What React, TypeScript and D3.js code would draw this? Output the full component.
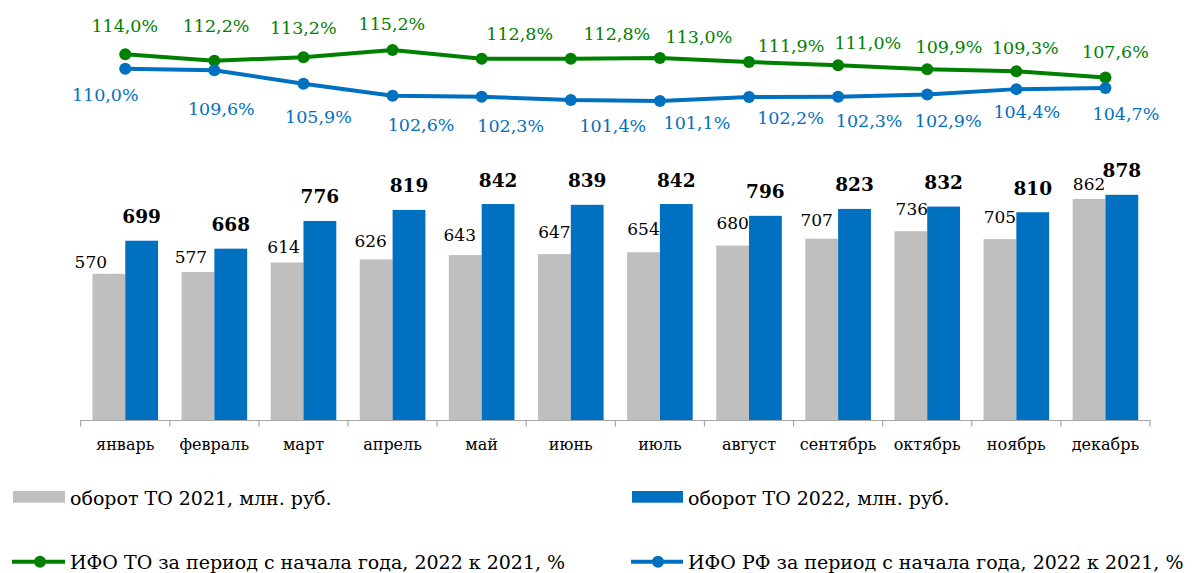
import React from "react";
import * as d3 from "d3";

const months = ["январь", "февраль", "март", "апрель", "май", "июнь", "июль", "август", "сентябрь", "октябрь", "ноябрь", "декабрь"];
const turnover2021 = [570, 577, 614, 626, 643, 647, 654, 680, 707, 736, 705, 862];
const turnover2022 = [699, 668, 776, 819, 842, 839, 842, 796, 823, 832, 810, 878];
const ifoTO = [114.0, 112.2, 113.2, 115.2, 112.8, 112.8, 113.0, 111.9, 111.0, 109.9, 109.3, 107.6];
const ifoRF = [110.0, 109.6, 105.9, 102.6, 102.3, 101.4, 101.1, 102.2, 102.3, 102.9, 104.4, 104.7];

const legendLabels = [
  "оборот ТО 2021, млн. руб.",
  "оборот ТО 2022, млн. руб.",
  "ИФО ТО за период с начала года, 2022 к 2021, %",
  "ИФО РФ за период с начала года, 2022 к 2021, %",
];

// label nudges (layout only)
const grayLblDx = [-18, -7, -3.5, -5.5, -5.5, 0, 0, 0, -5, 1, 0, 0];
const grayLblDy = [6, 9, 9.4, 12, 13.6, 15.7, 17, 16.7, 12.7, 16, 16, 9];
const greenLblDx = [-0.5, 1.7, -0.2, -0.7, 38, 46, 39, 42, 29.7, 21.7, 9, 10];
const greenLblDy = [22.6, 29.3, 23, 20, 18.3, 18.3, 15, 10.3, 16, 16, 17.7, 19.4];
const blueLblDx = [-20, 7, 15, 28.5, 29, 42, 37, 41.5, 31, 21, 10.5, 20.5];
const blueLblDy = [32.4, 44.7, 39, 35, 35, 31.7, 27.7, 27, 30.7, 32.7, 29.3, 32];

const GRAY = "#bfbfbf";
const BLUE = "#0070c0";
const GREEN = "#008000";
const FONT = "'DejaVu Serif', serif";

const fmtPct = (v: number) => v.toFixed(1).replace(".", ",") + "%";

export default function App() {
  const W = 1193, H = 573;
  const x0 = d3.scaleBand<string>().domain(months).range([80.7, 1150]).padding(0);
  const x1 = d3.scaleBand<string>().domain(["2021", "2022"]).range([0, x0.bandwidth()]).paddingInner(0).paddingOuter(0.358);
  const yBar = d3.scaleLinear().domain([0, 1000]).range([420, 163.5]);
  const yPct = d3.scaleLinear().domain([100, 115]).range([105.1, 50.65]);

  const cx = (m: string) => (x0(m) as number) + x0.bandwidth() / 2;
  const line = d3.line<number>().x((_, i) => cx(months[i])).y((v) => yPct(v));

  const ticks = d3.range(months.length + 1).map((i) => 80.7 + i * x0.bandwidth());

  return (
    <svg width={W} height={H} style={{ position: "absolute", left: 0, top: 0 }} fontFamily={FONT}>
      <rect width={W} height={H} fill="#fff" />
      {/* bars */}
      {months.map((m, i) => {
        const bx = x0(m) as number;
        const gx = bx + (x1("2021") as number);
        const bxx = bx + (x1("2022") as number);
        const bw = x1.bandwidth();
        return (
          <g key={m}>
            <rect x={gx} y={yBar(turnover2021[i])} width={bw} height={420 - yBar(turnover2021[i])} fill={GRAY} />
            <rect x={bxx} y={yBar(turnover2022[i])} width={bw} height={420 - yBar(turnover2022[i])} fill={BLUE} />
            <text x={gx + bw / 2 + grayLblDx[i]} y={yBar(turnover2021[i]) - grayLblDy[i]} textAnchor="middle" fontSize={17} fill="#000">
              {turnover2021[i]}
            </text>
            <text x={bxx + bw / 2} y={yBar(turnover2022[i]) - 17.5} textAnchor="middle" fontSize={18.5} fontWeight="bold" fill="#000">
              {turnover2022[i]}
            </text>
          </g>
        );
      })}
      {/* axis */}
      <line x1={80.7} x2={1150} y1={420.5} y2={420.5} stroke="#a6a6a6" strokeWidth={1.2} />
      {ticks.map((t, i) => (
        <line key={i} x1={t} x2={t} y1={420} y2={426.5} stroke="#a6a6a6" strokeWidth={1.2} />
      ))}
      {months.map((m) => (
        <text key={m} x={cx(m)} y={450} textAnchor="middle" fontSize={16} fill="#000">
          {m}
        </text>
      ))}
      {/* lines */}
      <path d={line(ifoTO) || ""} fill="none" stroke={GREEN} strokeWidth={4} strokeLinejoin="round" />
      <path d={line(ifoRF) || ""} fill="none" stroke={BLUE} strokeWidth={4} strokeLinejoin="round" />
      {ifoTO.map((v, i) => (
        <g key={"g" + i}>
          <circle cx={cx(months[i])} cy={yPct(v)} r={6} fill={GREEN} />
          <text x={cx(months[i]) + greenLblDx[i]} y={yPct(v) - greenLblDy[i]} textAnchor="middle" fontSize={17.5} fill={GREEN}>
            {fmtPct(v)}
          </text>
        </g>
      ))}
      {ifoRF.map((v, i) => (
        <g key={"b" + i}>
          <circle cx={cx(months[i])} cy={yPct(v)} r={6} fill={BLUE} />
          <text x={cx(months[i]) + blueLblDx[i]} y={yPct(v) + blueLblDy[i]} textAnchor="middle" fontSize={17.5} fill={BLUE}>
            {fmtPct(v)}
          </text>
        </g>
      ))}
      {/* legend */}
      <rect x={13} y={491} width={52} height={11.7} fill={GRAY} />
      <text x={70} y={505} fontSize={19} fill="#000">{legendLabels[0]}</text>
      <rect x={632} y={491} width={51} height={11.7} fill={BLUE} />
      <text x={688} y={505} fontSize={19} fill="#000">{legendLabels[1]}</text>
      <line x1={12} x2={65} y1={561.7} y2={561.7} stroke={GREEN} strokeWidth={4} />
      <circle cx={40} cy={561.7} r={6} fill={GREEN} />
      <text x={70} y={569} fontSize={19} fill="#000">{legendLabels[2]}</text>
      <line x1={631} x2={683} y1={561.7} y2={561.7} stroke={BLUE} strokeWidth={4} />
      <circle cx={658} cy={561.7} r={6} fill={BLUE} />
      <text x={688} y={569} fontSize={19} fill="#000">{legendLabels[3]}</text>
    </svg>
  );
}
